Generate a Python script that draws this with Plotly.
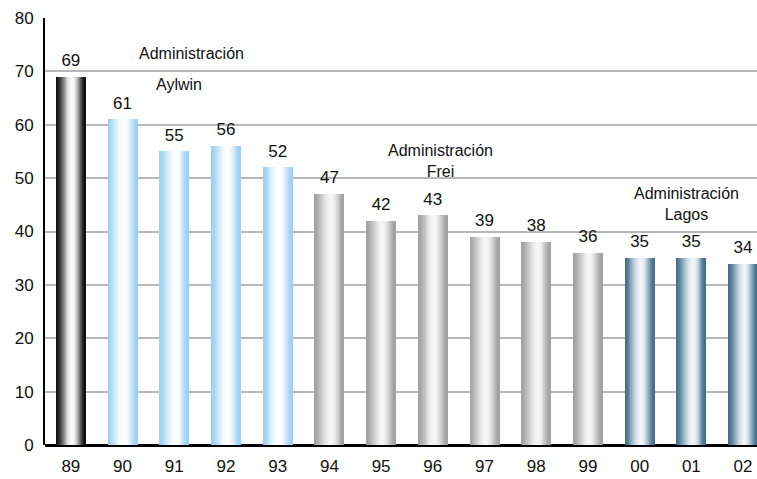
import math
import plotly.graph_objects as go

years = ["89", "90", "91", "92", "93", "94", "95", "96", "97", "98", "99", "00", "01", "02"]
values = [69, 61, 55, 56, 52, 47, 42, 43, 39, 38, 36, 35, 35, 34]
groups = ["pre", "aylwin", "aylwin", "aylwin", "aylwin", "frei", "frei", "frei",
          "frei", "frei", "frei", "lagos", "lagos", "lagos"]
y_ticks = [0, 10, 20, 30, 40, 50, 60, 70, 80]

# style: edge colour -> highlight colour for the cylinder shading
palette = {
    "pre": ((14, 14, 14), (250, 250, 250)),
    "aylwin": ((155, 208, 243), (255, 255, 255)),
    "frei": ((160, 160, 160), (245, 245, 245)),
    "lagos": ((66, 110, 138), (240, 245, 248)),
}

BAR_W = 0.56
N = 30
HL = 0.57


def shade(t, edge, hi):
    d = (t - HL) / (HL if t < HL else 1 - HL)
    f = math.cos(min(abs(d), 1) * math.pi / 2) ** 1.6
    return "rgb(%d,%d,%d)" % tuple(round(e + (h - e) * f) for e, h in zip(edge, hi))


fig = go.Figure()
for i in range(N):
    t = (i + 0.5) / N
    cols = [shade(t, *palette[g]) for g in groups]
    fig.add_trace(go.Bar(
        x=years, y=values,
        width=BAR_W / N * 1.6,
        offset=-BAR_W / 2 + i * BAR_W / N,
        marker=dict(color=cols, line=dict(width=0)),
        hoverinfo="skip", showlegend=False,
    ))

fig.add_trace(go.Scatter(
    x=years, y=values, mode="markers+text", text=[str(v) for v in values],
    marker=dict(size=9, opacity=0),
    textposition="top center", textfont=dict(size=17, color="#111"),
    cliponaxis=False, showlegend=False, hoverinfo="skip",
))

afont = dict(family="Liberation Sans, Arial, sans-serif", size=16, color="#111")
fig.add_annotation(x=2.34, y=73.4, text="Administración", showarrow=False, font=afont)
fig.add_annotation(x=2.1, y=67.6, text="Aylwin", showarrow=False, font=afont)
fig.add_annotation(x=7.14, y=53.2, text="Administración<br>Frei", showarrow=False, font=afont)
fig.add_annotation(x=11.9, y=45.1, text="Administración<br>Lagos", showarrow=False, font=afont)

fig.update_layout(
    width=757, height=479,
    margin=dict(l=45, r=0, t=18, b=34),
    barmode="overlay", bargap=0,
    plot_bgcolor="white", paper_bgcolor="white",
    font=dict(family="Liberation Sans, Arial, sans-serif", size=17, color="#111"),
    xaxis=dict(type="category", range=[-0.5, 13.27], showgrid=False, automargin=False,
               showline=False, ticks="", tickfont=dict(size=17), ticklabelstandoff=9),
    yaxis=dict(range=[0, 80], tickvals=y_ticks, showgrid=True, gridcolor="#b8b8b8",
               gridwidth=2, showline=True, linecolor="black", linewidth=2, automargin=False,
               zeroline=True, zerolinecolor="black", zerolinewidth=3,
               ticks="", tickfont=dict(size=17), ticklabelstandoff=6),
)

fig.write_html("out.html", config={"displayModeBar": False},
               post_script="document.body.style.margin='0';")
